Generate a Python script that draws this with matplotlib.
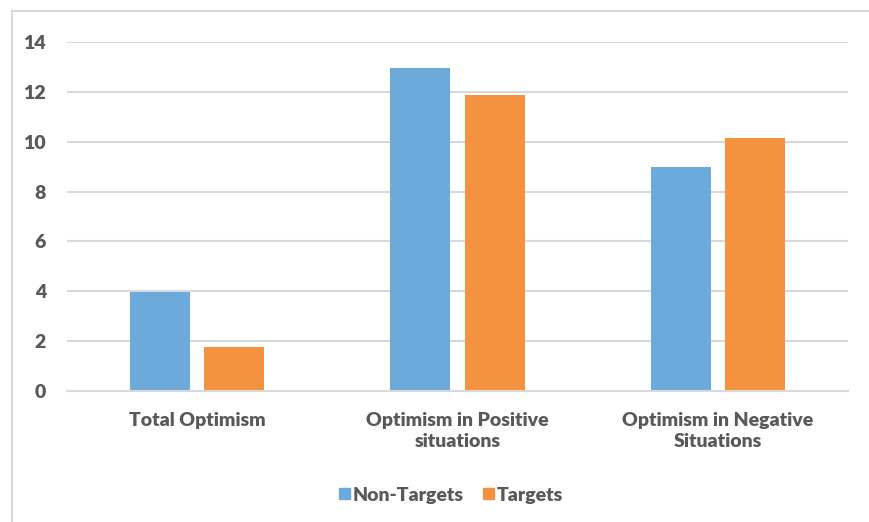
import matplotlib
matplotlib.use("Agg")
import matplotlib.pyplot as plt
from matplotlib.lines import Line2D
import matplotlib.patches as mpatches
import numpy as np

categories = ["Total Optimism", "Optimism in Positive\nsituations", "Optimism in Negative\nSituations"]
non_targets = [3.97, 12.95, 8.98]
targets = [1.76, 11.88, 10.14]
series_names = ["Non-Targets", "Targets"]
yticks = [0, 2, 4, 6, 8, 10, 12, 14]

blue = "#6BAADB"
orange = "#F4923F"
grid_c = "#D9D9D9"
text_c = "#595959"

plt.rcParams['font.family'] = ['Lato', 'DejaVu Sans']

W, H = 870, 522
fig = plt.figure(figsize=(W / 100, H / 100), dpi=100)
ax = fig.add_axes([67 / W, (H - 391) / H, (848 - 67) / W, (391 - 42) / H])

x = np.arange(len(categories))
bw = 0.23
off = 0.143
ax.bar(x - off, non_targets, bw, color=blue, label=series_names[0], zorder=3)
ax.bar(x + off, targets, bw, color=orange, label=series_names[1], zorder=3)

fs = 14
ax.set_xlim(-0.5, 2.5)
ax.set_ylim(0, 14)
ax.set_yticks(yticks)
ax.set_yticklabels([str(v) for v in yticks], fontsize=fs, fontweight='heavy', color=text_c)
ax.set_xticks(x)
ax.set_xticklabels(categories, fontsize=fs, fontweight='heavy', color=text_c, linespacing=1.3)
ax.tick_params(axis='both', length=0)
ax.tick_params(axis='y', pad=15)
ax.tick_params(axis='x', pad=15)
ax.grid(axis='y', color=grid_c, linewidth=1.5, zorder=0)
for s in ['top', 'right', 'left']:
    ax.spines[s].set_visible(False)
ax.spines['bottom'].set_color(grid_c)
ax.spines['bottom'].set_linewidth(1.5)
ax.spines['bottom'].set_zorder(4)

handles = [mpatches.Patch(color=blue), mpatches.Patch(color=orange)]
leg = fig.legend(handles, series_names, loc='center', bbox_to_anchor=(451 / W, 1 - 495 / H),
                 ncol=2, frameon=False, handlelength=0.55, handleheight=0.55, handletextpad=0.15,
                 columnspacing=1.0, prop={'size': fs, 'weight': 'heavy'})
for t in leg.get_texts():
    t.set_color(text_c)

# outer border (top and left visible)
fig.add_artist(Line2D([12 / W, 1], [1 - 11 / H, 1 - 11 / H], color=grid_c, linewidth=1.5, transform=fig.transFigure))
fig.add_artist(Line2D([12 / W, 12 / W], [0, 1 - 11 / H], color=grid_c, linewidth=1.5, transform=fig.transFigure))

fig.savefig("out.png", dpi=100)
